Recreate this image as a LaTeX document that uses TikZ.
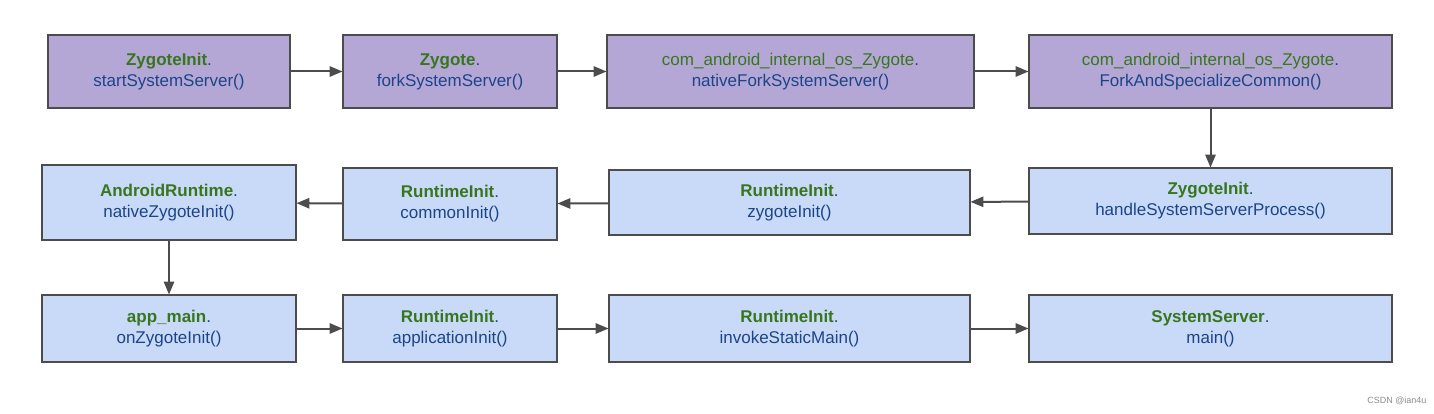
\documentclass[tikz,border=0pt]{standalone}
\usepackage{fontspec}
\setmainfont{Liberation Sans}
\usetikzlibrary{arrows}
\definecolor{boxpurple}{HTML}{B4A7D6}
\definecolor{boxblue}{HTML}{C9DAF8}
\definecolor{cls}{HTML}{38761D}
\definecolor{mth}{HTML}{1C4587}
\tikzstyle{call} = [rectangle, draw=black!70, line width=1.2pt, align=center, font=\fontsize{17}{21}\selectfont, inner sep=0pt, text=mth]
\tikzstyle{first} = [call, fill=boxpurple]
\tikzstyle{rest} = [call, fill=boxblue]
\tikzstyle{arrow} = [draw=black!70, line width=2pt, -triangle 45]
\newcommand{\cn}[1]{\textcolor{cls}{\textbf{#1}}.}
\newcommand{\jn}[1]{\textcolor{cls}{#1}.}

\begin{document}
\begin{tikzpicture}[x=1pt, y=-1pt]
\useasboundingbox (0,0) rectangle (1434,414);

% Top row
\node (Z1) [first, minimum width=242, minimum height=73] at (169,71.5) {\cn{ZygoteInit}\\startSystemServer()};
\node (Z2) [first, minimum width=214, minimum height=73] at (450,71.5) {\cn{Zygote}\\forkSystemServer()};
\node (Z3) [first, minimum width=367, minimum height=73] at (790.5,71.5) {\jn{com\_android\_internal\_os\_Zygote}\\nativeForkSystemServer()};
\node (Z4) [first, minimum width=363, minimum height=73] at (1210.5,71.5) {\jn{com\_android\_internal\_os\_Zygote}\\ForkAndSpecializeCommon()};

% Middle row
\node (R4) [rest, minimum width=363, minimum height=66] at (1210.5,201) {\cn{ZygoteInit}\\handleSystemServerProcess()};
\node (R3) [rest, minimum width=361, minimum height=65] at (789.5,202.5) {\cn{RuntimeInit}\\zygoteInit()};
\node (R2) [rest, minimum width=214, minimum height=72] at (450,204) {\cn{RuntimeInit}\\commonInit()};
\node (R1) [rest, minimum width=254, minimum height=75] at (169,202.5) {\cn{AndroidRuntime}\\nativeZygoteInit()};

% Bottom row
\node (A1) [rest, minimum width=254, minimum height=67] at (169,328.5) {\cn{app\_main}\\onZygoteInit()};
\node (A2) [rest, minimum width=214, minimum height=67] at (450,328.5) {\cn{RuntimeInit}\\applicationInit()};
\node (A3) [rest, minimum width=361, minimum height=67] at (789.5,328.5) {\cn{RuntimeInit}\\invokeStaticMain()};
\node (A4) [rest, minimum width=363, minimum height=67] at (1210.5,328.5) {\cn{SystemServer}\\main()};

\node (W) [anchor=south east, text=black!45, font=\fontsize{9}{10}\selectfont] at (1430,408) {CSDN @ian4u};

% Connecting arrows
\draw [arrow] (Z1) -- (Z2);
\draw [arrow] (Z2) -- (Z3);
\draw [arrow] (Z3) -- (Z4);
\draw [arrow] (Z4) -- (R4);
\draw [arrow] (R4) -- (R3);
\draw [arrow] (R3) -- (R2);
\draw [arrow] (R2) -- (R1);
\draw [arrow] (R1) -- (A1);
\draw [arrow] (A1) -- (A2);
\draw [arrow] (A2) -- (A3);
\draw [arrow] (A3) -- (A4);

\end{tikzpicture}
\end{document}
